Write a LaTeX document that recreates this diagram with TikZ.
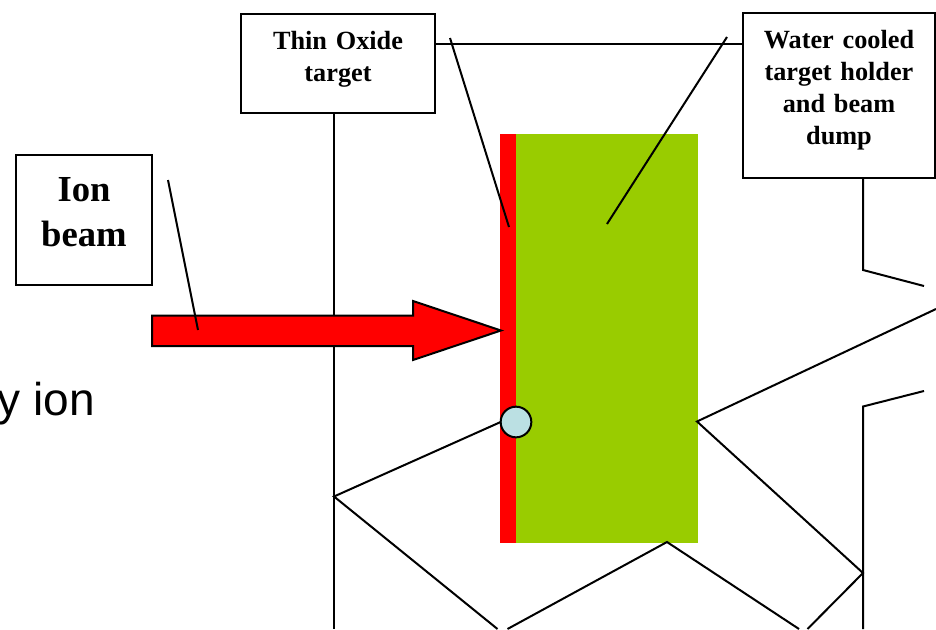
\documentclass[tikz,border=0pt]{standalone}
\usepackage{fontspec}
\setmainfont{Liberation Serif}
\newfontfamily\arialfont{Liberation Sans}
\definecolor{targetred}{HTML}{FF0000}
\definecolor{holdergreen}{HTML}{99CC00}
\definecolor{spotblue}{HTML}{BBE0E3}
\tikzset{
  wire/.style={draw=black,line width=1.5pt,line join=miter},
  labelbox/.style={draw=black,fill=white,line width=1.5pt,anchor=north west,align=center,inner sep=0pt,outer sep=0pt},
  block/.style={anchor=north west,inner sep=0pt,outer sep=0pt,draw=none}
}
\begin{document}
\begin{tikzpicture}[x=0.75pt,y=-0.75pt]
\useasboundingbox (0,0) rectangle (936,629);
\clip (0,0) rectangle (936,629);

% solid blocks
\node[block,fill=holdergreen,minimum width=136.5pt,minimum height=306.75pt] (holder) at (516,134) {};
\node[block,fill=targetred,minimum width=12pt,minimum height=306.75pt] (target) at (500,134) {};

% boxes
\node[labelbox,text width=102pt,text height=35pt,text depth=62.5pt,
  font=\fontsize{27.5}{33.75}\selectfont\bfseries] (ion) at (16,155) {Ion\\beam};
\node[labelbox,text width=145.5pt,text height=27.3pt,text depth=47.3pt,
  font=\fontsize{19.7}{24}\selectfont\bfseries] (thin) at (241,13.5) {Thin Oxide\\target};
\node[labelbox,text width=144pt,text height=26.9pt,text depth=96.8pt,
  font=\fontsize{19.7}{24}\selectfont\bfseries] (water) at (743,13) {Water cooled\\target holder\\and beam\\dump};

% spot
\node[circle,draw=black,fill=spotblue,line width=1.5pt,minimum size=23pt,inner sep=0pt,outer sep=0pt] (spotc) at (516,422) {};

% coordinates
\coordinate (a1) at (334,113);
\coordinate (a2) at (334,629);
\coordinate (b1) at (334,496.5);
\coordinate (b2) at (497.5,629);
\coordinate (c1) at (507.5,629);
\coordinate (c2) at (667,542);
\coordinate (c3) at (799,629);
\coordinate (d1) at (807.5,629);
\coordinate (d2) at (863,573);
\coordinate (d3) at (697,421.5);
\coordinate (d4) at (936,309);
\coordinate (e1) at (863,178);
\coordinate (e2) at (863,270);
\coordinate (e3) at (924,286);
\coordinate (f1) at (924,391);
\coordinate (f2) at (863,406.5);
\coordinate (f3) at (863,629);
\coordinate (g1) at (168,180);
\coordinate (g2) at (198,330);
\coordinate (h1) at (450,38);
\coordinate (h2) at (509,227);
\coordinate (i1) at (727,37);
\coordinate (i2) at (607,224);

% connectors
\draw[wire] (a1) -- (a2);
\draw[wire] (spotc.west) -- (b1) -- (b2);
\draw[wire] (c1) -- (c2) -- (c3);
\draw[wire] (d1) -- (d2) -- (d3) -- (d4);
\draw[wire] (e1) -- (e2) -- (e3);
\draw[wire] (f1) -- (f2) -- (f3);
\draw[wire] (thin.east |- 0,43.5) -- (water.west |- 0,43.5);

% beam arrow
\draw[fill=targetred,line width=1.5pt,line join=miter]
  (152,315.5) -- (413,315.5) -- (413,301) -- (501,330.5) -- (413,360) -- (413,346) -- (152,346) -- cycle;

% pointer lines
\draw[wire] (g1) -- (g2);
\draw[wire] (h1) -- (h2);
\draw[wire] (i1) -- (i2);

% fragment of text
\node[anchor=base east,inner sep=0pt,font=\arialfont\fontsize{34.5}{40}\selectfont] (frag) at (95,415) {y ion};
\end{tikzpicture}
\end{document}
